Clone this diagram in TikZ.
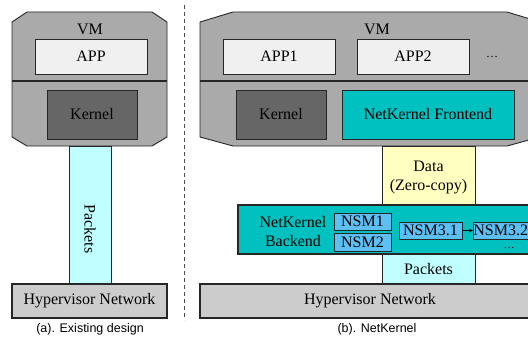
\documentclass[tikz,border=0pt]{standalone}
\usepackage{fontspec}
\setmainfont{Liberation Serif}
\setsansfont{Liberation Sans}
\usetikzlibrary{arrows.meta}
\definecolor{vmgray}{HTML}{AAAAAA}
\definecolor{appwhite}{HTML}{F0F0F0}
\definecolor{kerngray}{HTML}{666666}
\definecolor{pktcyan}{HTML}{C0FFFF}
\definecolor{hypgray}{HTML}{CCCCCC}
\definecolor{nkteal}{HTML}{00C0C0}
\definecolor{datayel}{HTML}{FFFFC0}
\definecolor{nsmblue}{HTML}{5CC0F5}
\tikzset{
  bx/.style={draw=black!85, line width=0.8pt, inner sep=0pt, font=\fontsize{16}{18}\selectfont, anchor=center},
  vmshape/.style={draw=black!85, line width=0.9pt, fill=vmgray},
  captxt/.style={font=\sffamily\fontsize{12.5}{14}\selectfont},
  lbl/.style={font=\fontsize{16}{18}\selectfont, inner sep=0pt}
}
\newcommand{\boxat}[7]{%
  \node[bx, #6, minimum width=#4-#2, minimum height=#5-#3] (#1) at ({(#2+#4)/2},{(#3+#5)/2}) {#7};}
\begin{document}
\begin{tikzpicture}[x=1pt,y=-1pt]
\useasboundingbox (0,0) rectangle (528,337);
\clip (0,0) rectangle (528,337);
% ---------- (a) ----------
\draw[vmshape] (12,22) -- (27,12) -- (152,12) -- (167,22) -- (167,137) -- (152,146) -- (27,146) -- (12,137) -- cycle;
\draw[line width=1.4pt, black!85] (12,81) -- (167,81);
\node[lbl] (vma) at (90,29) {VM};
\boxat{appa}{35}{39}{147}{74}{fill=appwhite}{APP}
\boxat{kernela}{47}{90}{137}{139}{fill=kerngray}{Kernel}
\boxat{pkta}{69}{146}{111}{284}{fill=pktcyan}{}
\node[lbl, rotate=-90] (pkttxt) at (90,229) {Packets};
\boxat{hypa}{12}{284}{167}{318}{fill=hypgray, line width=1.1pt}{Hypervisor Network}
\node[captxt] (capa) at (90,329) {(a). Existing design};
% divider
\coordinate (dtop) at (184,5);
\coordinate (dbot) at (184,320);
\draw[line width=0.8pt, black!70, dash pattern=on 4pt off 3pt] (dtop) -- (dbot);
% ---------- (b) ----------
\draw[vmshape] (200,22) -- (233,12) -- (507,12) -- (540,22) -- (540,137) -- (507,146) -- (233,146) -- (200,137) -- cycle;
\draw[line width=1.4pt, black!85] (200,81) -- (540,81);
\node[lbl] (vmb) at (377,29) {VM};
\boxat{app1}{223}{39}{335}{74}{fill=appwhite}{APP1}
\boxat{app2}{357}{39}{469}{74}{fill=appwhite}{APP2}
\node[lbl] (appdots) at (492,57) {\fontsize{12}{14}\selectfont\dots};
\boxat{kernelb}{236}{90}{326}{139}{fill=kerngray}{Kernel}
\boxat{front}{342}{90}{514}{139}{fill=nkteal}{NetKernel Frontend}
\boxat{data}{382}{146}{475}{205}{fill=datayel}{}
\node[lbl, align=center] (datatxt) at (428.5,177) {Data\\[1pt](Zero-copy)};
\boxat{back}{238}{205}{545}{254}{fill=nkteal, line width=1.6pt}{}
\node[lbl, align=center] (backtxt) at (293,232) {NetKernel\\[1pt]Backend};
\boxat{nsm1}{334}{213}{391}{230}{fill=nsmblue}{NSM1}
\boxat{nsm2}{334}{233}{391}{251}{fill=nsmblue}{NSM2}
\boxat{nsm31}{399}{222}{462}{239}{fill=nsmblue}{NSM3.1}
\node[bx, fill=nsmblue, minimum height=17pt, anchor=west] (nsm32) at (473,230.5) {NSM3.2\hspace{4pt}};
\draw[-{Stealth[length=4pt,width=3.5pt]}, line width=0.7pt] (nsm31) -- (nsm32);
\node[lbl] (backdots) at (509,248.5) {\fontsize{11}{12}\selectfont\dots};
\boxat{pktb}{382}{254}{475}{284}{fill=pktcyan}{Packets}
\boxat{hypb}{200}{284}{540}{318}{fill=hypgray, line width=1.1pt}{Hypervisor Network}
\node[captxt] (capb) at (377,329) {(b). NetKernel};
\end{tikzpicture}
\end{document}
